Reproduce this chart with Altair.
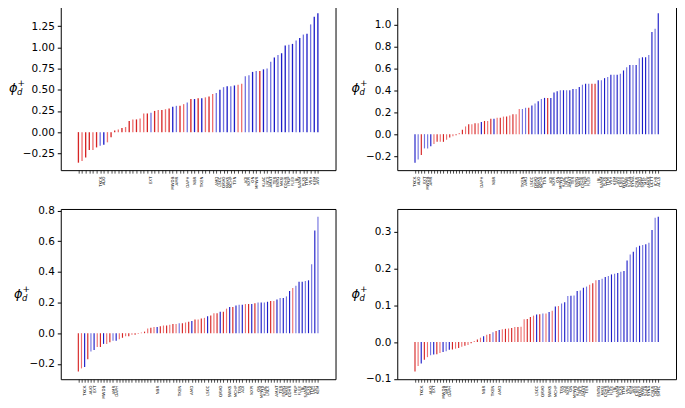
import altair as alt
import pandas as pd

FONT = "DejaVu Sans"

# sorted phi_d^+ values per panel, with a colour code per bar
# (r = red, R = light red, b = blue, B = light blue)
phi_a = [-0.36, -0.34, -0.30, -0.21, -0.21, -0.18, -0.16, -0.15, -0.12, -0.06,
         0.02, 0.03, 0.05, 0.06, 0.13, 0.15, 0.15, 0.16, 0.22, 0.22,
         0.23, 0.25, 0.26, 0.26, 0.27, 0.28, 0.30, 0.31, 0.31, 0.33,
         0.35, 0.39, 0.39, 0.40, 0.40, 0.41, 0.42, 0.45, 0.46, 0.50,
         0.53, 0.54, 0.54, 0.55, 0.56, 0.57, 0.66, 0.67, 0.71, 0.72,
         0.72, 0.74, 0.75, 0.83, 0.88, 0.91, 0.93, 1.02, 1.03, 1.04,
         1.08, 1.11, 1.15, 1.16, 1.27, 1.36, 1.40]
tone_a = ("rRrrRrBbRr" "rRrRrRrRRr" "BrRrRrbBrR" "BrbrbRrRBb"
          "BbBbRRBBbB" "rbBBbBbbBb" "BbBbBbb")

phi_b = [-0.26, -0.23, -0.19, -0.13, -0.13, -0.11, -0.09, -0.07, -0.07, -0.07,
         -0.05, -0.03, -0.02, -0.01, 0.01, 0.04, 0.07, 0.09, 0.09, 0.10,
         0.10, 0.11, 0.12, 0.12, 0.14, 0.14, 0.15, 0.15, 0.16, 0.16,
         0.17, 0.18, 0.18, 0.23, 0.23, 0.24, 0.24, 0.26, 0.28, 0.30,
         0.32, 0.33, 0.33, 0.33, 0.38, 0.39, 0.40, 0.40, 0.40, 0.40,
         0.41, 0.41, 0.43, 0.45, 0.46, 0.46, 0.46, 0.46, 0.49, 0.49,
         0.51, 0.52, 0.54, 0.54, 0.54, 0.55, 0.58, 0.61, 0.63, 0.63,
         0.63, 0.69, 0.70, 0.70, 0.72, 0.93, 0.96, 1.10]
tone_b = ("bBrBBbRrRr" "RrRrRrRrRr" "RbrRrbRrRr" "RrRRBBrbBb"
          "BbrbbbBbBb" "bBbBbBrrbB" "bBbBbBbBbB" "bBbbBbBb")

phi_c = [-0.25, -0.23, -0.22, -0.17, -0.12, -0.11, -0.09, -0.09, -0.07, -0.07,
         -0.06, -0.05, -0.05, -0.04, -0.03, -0.02, -0.02, -0.01, -0.01, -0.005,
         0.005, 0.01, 0.03, 0.035, 0.04, 0.04, 0.045, 0.05, 0.05, 0.055,
         0.06, 0.06, 0.065, 0.065, 0.07, 0.075, 0.08, 0.09, 0.09, 0.095,
         0.10, 0.11, 0.115, 0.13, 0.13, 0.14, 0.14, 0.16, 0.17, 0.17,
         0.18, 0.185, 0.185, 0.19, 0.19, 0.19, 0.195, 0.20, 0.20, 0.20,
         0.205, 0.21, 0.21, 0.22, 0.23, 0.23, 0.24, 0.275, 0.295, 0.31,
         0.335, 0.335, 0.34, 0.345, 0.45, 0.67, 0.76]
tone_c = ("rRbrBbRrbR" "rBbRrRrRrR" "RrRrRbrRrR" "rRBrRrbrRr"
          "RbrRrbrRbr" "bBbRrbrBbB" "brRbBbBbRB" "bbBbBbB")

phi_d = [-0.080, -0.065, -0.058, -0.048, -0.041, -0.036, -0.034, -0.033, -0.030, -0.027,
         -0.025, -0.021, -0.020, -0.018, -0.016, -0.013, -0.010, -0.008, -0.003, 0.003,
         0.007, 0.012, 0.016, 0.020, 0.022, 0.027, 0.030, 0.033, 0.035, 0.036,
         0.037, 0.038, 0.041, 0.041, 0.042, 0.062, 0.063, 0.068, 0.072, 0.075,
         0.076, 0.078, 0.078, 0.082, 0.085, 0.097, 0.098, 0.105, 0.108, 0.125,
         0.126, 0.127, 0.139, 0.140, 0.148, 0.151, 0.156, 0.160, 0.168, 0.169,
         0.172, 0.177, 0.180, 0.184, 0.186, 0.188, 0.191, 0.193, 0.222, 0.238,
         0.246, 0.258, 0.262, 0.264, 0.266, 0.270, 0.305, 0.338, 0.341]
tone_d = ("rRbrRBbrRb" "BbrRrRrRrR" "rRbRr" "BrbR" "rRrRrRRrrR"
          "brBRbRbRBb" "BbBbBbBRrR" "bBbBbBbBbb" "BbBbBbBbBb")

# tick labels, only the blue bars carry one
names = ["TKCK", "AUO", "EXT", "MWDB", "AMR", "DAPH", "NBR", "TKEN", "AMD", "LSCC",
         "QRVO", "SWKS", "MCHP", "TXN", "ADI", "NXPI", "ON", "MPWR", "KLAC", "LRCX",
         "AMAT", "TER", "ENTG", "MKSI", "COHR", "IPGP", "FLEX", "JBL", "SANM", "PLXS",
         "TTMI", "VSH", "KEM", "AVX", "CREE", "WOLF", "POWI", "SLAB", "SYNA", "CRUS",
         "DIOD", "SMTC", "MXL", "AMKR", "UCTT", "ICHR", "ACLS", "FORM", "ONTO", "CAMT",
         "NVMI", "KLIC", "COHU", "AEHR", "PLAB", "VECO", "ASYS", "INTT", "CEVA", "RMBS"]

y_ticks_a = [-0.25, 0.0, 0.25, 0.5, 0.75, 1.0, 1.25]
y_ticks_b = [-0.2, 0.0, 0.2, 0.4, 0.6, 0.8, 1.0]
y_ticks_c = [-0.2, 0.0, 0.2, 0.4, 0.6, 0.8]
y_ticks_d = [-0.1, 0.0, 0.1, 0.2, 0.3]

TONES = ["r", "R", "b", "B"]
TONE_COLORS = ["#d62424", "#ee7070", "#1c1cc8", "#7474e0"]


def symbol(x0, height):
    row = alt.Chart(pd.DataFrame({"k": [0]}))
    mid = height / 2
    phi = row.mark_text(text="ϕ", font=FONT, fontSize=13, fontStyle="italic",
                        align="left", baseline="middle").encode(
        x=alt.value(x0), y=alt.value(mid))
    sub = row.mark_text(text="d", font=FONT, fontSize=8.5, fontStyle="italic",
                        align="left", baseline="middle").encode(
        x=alt.value(x0 + 8), y=alt.value(mid + 4))
    sup = row.mark_text(text="+", font=FONT, fontSize=9,
                        align="left", baseline="middle").encode(
        x=alt.value(x0 + 8.5), y=alt.value(mid - 5))
    return phi + sub + sup


def panel(values, tones, ticks, fmt, title_x, width, height):
    n = len(values)
    it = iter(names)
    labels = [next(it) if t in "bB" else "" for t in tones]
    df = pd.DataFrame({"idx": range(n), "phi": values, "tone": list(tones)})

    lo, hi = min(values), max(values)
    pad = 0.05 * (hi - lo)
    w = 0.35
    xpad = 0.05 * (n - 1 + w)
    x_dom = [-w / 2 - xpad, n - 1 + w / 2 + xpad]
    bar_px = w * width / (x_dom[1] - x_dom[0])
    label_expr = "[" + ",".join("'%s'" % s for s in labels) + "][datum.value]"

    bars = alt.Chart(df).mark_bar(size=bar_px).encode(
        x=alt.X("idx:Q",
                scale=alt.Scale(domain=x_dom, nice=False, zero=False),
                axis=alt.Axis(values=list(range(n)), labelExpr=label_expr,
                              labelAngle=270, labelFontSize=4, labelPadding=3,
                              labelOverlap=False, labelFlush=False, tickSize=3,
                              tickWidth=0.7, title=None)),
        y=alt.Y("phi:Q",
                scale=alt.Scale(domain=[lo - pad, hi + pad], nice=False, zero=False),
                axis=alt.Axis(values=ticks, format=fmt, title=None,
                              labelFontSize=10.5, tickSize=3.5, labelPadding=3)),
        y2=alt.datum(0),
        color=alt.Color("tone:N", scale=alt.Scale(domain=TONES, range=TONE_COLORS),
                        legend=None),
    )
    return (bars + symbol(title_x, height)).properties(width=width, height=height)


top = alt.hconcat(
    panel(phi_a, tone_a, y_ticks_a, ".2f", -52, 276, 165),
    panel(phi_b, tone_b, y_ticks_b, ".1f", -46, 280, 165),
    spacing=14,
)
bottom = alt.hconcat(
    panel(phi_c, tone_c, y_ticks_c, ".1f", -47, 276, 171),
    panel(phi_d, tone_d, y_ticks_d, ".1f", -46, 280, 171),
    spacing=14,
)

chart = alt.vconcat(top, bottom, spacing=15).properties(
    padding={"top": -4, "left": 0, "right": 0, "bottom": 0}
).configure_view(
    stroke="black", strokeWidth=1
).configure_axis(
    labelFont=FONT, labelColor="black", tickColor="black",
    domain=False, grid=False
)

chart.save("out.html", embed_options={"renderer": "svg", "actions": False})
